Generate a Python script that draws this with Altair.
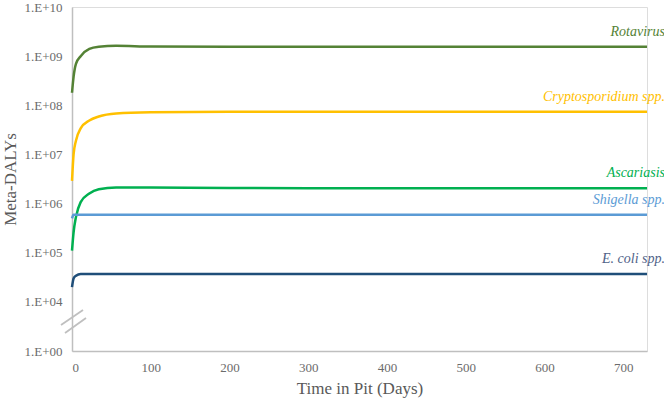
import altair as alt
import pandas as pd

# ---- data ----
days = [0, 2, 5, 11, 22, 34, 56, 100, 200, 300, 400, 500, 600, 730]
rotavirus = [1.8e8, 3.8e8, 7.0e8, 1.0e9, 1.4e9, 1.55e9, 1.62e9, 1.57e9, 1.55e9, 1.55e9, 1.55e9, 1.55e9, 1.55e9, 1.55e9]
cryptosporidium = [2.9e6, 1.0e7, 1.9e7, 3.4e7, 4.9e7, 5.9e7, 6.8e7, 7.2e7, 7.4e7, 7.4e7, 7.4e7, 7.4e7, 7.4e7, 7.4e7]
ascariasis = [1.1e5, 2.6e5, 5.3e5, 1.07e6, 1.6e6, 1.95e6, 2.12e6, 2.12e6, 2.08e6, 2.05e6, 2.05e6, 2.05e6, 2.05e6, 2.05e6]
shigella = [5.0e5, 5.9e5, 5.9e5, 5.9e5, 5.9e5, 5.9e5, 5.9e5, 5.9e5, 5.9e5, 5.9e5, 5.9e5, 5.9e5, 5.9e5, 5.9e5]
ecoli = [2.0e4, 3.0e4, 3.4e4, 3.7e4, 3.7e4, 3.7e4, 3.7e4, 3.7e4, 3.7e4, 3.7e4, 3.7e4, 3.7e4, 3.7e4, 3.7e4]

series_names = ["Rotavirus", "Cryptosporidium spp.", "Ascariasis", "Shigella spp.", "E. coli spp."]
series_values = [rotavirus, cryptosporidium, ascariasis, shigella, ecoli]
line_colors = ["#548235", "#FFC000", "#00B050", "#5B9BD5", "#1F4E79"]
label_colors = ["#548235", "#FFC000", "#00B050", "#5B9BD5", "#4F6288"]

y_ticks = [1e3, 1e4, 1e5, 1e6, 1e7, 1e8, 1e9, 1e10]
x_ticks = [0, 100, 200, 300, 400, 500, 600, 700]

FONT = "Times New Roman, Liberation Serif, serif"
GREY = "#595959"
TICK_GREY = "#6b6b6b"

rows = []
for name, vals in zip(series_names, series_values):
    for d, v in zip(days, vals):
        rows.append({"series": name, "day": d, "value": v})
df = pd.DataFrame(rows)

labels = pd.DataFrame({
    "series": series_names,
    "day": [days[-1]] * len(series_names),
    "value": [vals[-1] for vals in series_values],
})

x_enc = alt.X("day:Q",
              scale=alt.Scale(domain=[0, 730], nice=False, zero=False),
              axis=alt.Axis(values=x_ticks, title="Time in Pit (Days)", grid=False,
                            ticks=False, labelPadding=10, titlePadding=6,
                            domainColor="#BFBFBF", domainWidth=1.5))
y_enc = alt.Y("value:Q",
              scale=alt.Scale(type="log", domain=[1e3, 1e10], nice=False),
              axis=alt.Axis(values=y_ticks, title="Meta-DALYs", grid=False,
                            ticks=False, labelPadding=10, titlePadding=4,
                            domainColor="#BFBFBF", domainWidth=1.5,
                            labelExpr="datum.value <= 1000 ? '1.E+00' : '1.E+' + format(round(log(datum.value)/LN10), '02d')"))

lines = alt.Chart(df).mark_line(strokeWidth=2.5, interpolate="monotone").encode(
    x=x_enc, y=y_enc,
    color=alt.Color("series:N", scale=alt.Scale(domain=series_names, range=line_colors), legend=None),
    detail="series:N",
)

text = alt.Chart(labels).mark_text(align="right", baseline="middle", dx=18, dy=-15,
                                   font=FONT, fontSize=14, fontStyle="italic").encode(
    x="day:Q", y="value:Q",
    text="series:N",
    color=alt.Color("series:N", scale=alt.Scale(domain=series_names, range=label_colors), legend=None),
)

# axis-break marks
brk = pd.DataFrame({"k": [0, 1]})
break1 = alt.Chart(brk).transform_filter("datum.k == 0").mark_rule(color="#BFBFBF", strokeWidth=1.8).encode(
    x=alt.value(-11), x2=alt.value(11), y=alt.value(318), y2=alt.value(303))
break2 = alt.Chart(brk).transform_filter("datum.k == 1").mark_rule(color="#BFBFBF", strokeWidth=1.8).encode(
    x=alt.value(-7), x2=alt.value(14), y=alt.value(326), y2=alt.value(311))

chart = alt.layer(lines, text, break1, break2).resolve_scale(color="independent").properties(
    width=575, height=344,
    autosize="none",
    padding={"left": 72, "top": 7, "right": 17, "bottom": 65},
).configure_view(stroke=None).configure(background="white", font=FONT).configure_axis(
    labelFont=FONT, labelFontSize=13, labelColor=TICK_GREY,
    titleFont=FONT, titleFontSize=17, titleColor=GREY, titleFontWeight="normal",
).configure_text(font=FONT)

chart.save("out.html", embed_options={"renderer": "svg", "actions": False})
